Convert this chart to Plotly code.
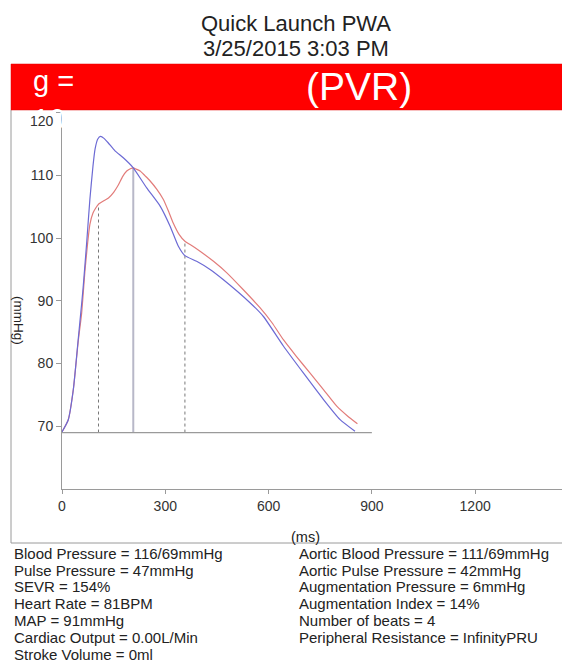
import plotly.graph_objects as go

# ---------------- data ----------------
title_lines = ["Quick Launch PWA", "3/25/2015 3:03 PM"]
banner_left = "g =<br>10"
banner_center = "(PVR)"

blue_t = [0, 18, 33, 47, 57, 62, 72, 81, 90, 96, 104, 112, 122, 134, 154, 178, 207,
          246, 285, 314, 338, 357, 391, 430, 468, 546, 585, 643, 701, 759, 807, 851]
blue_p = [69.1, 71.0, 75.9, 83.8, 89.5, 92.5, 99.5, 106.2, 111.5, 114.2, 115.8, 116.2,
          115.9, 115.2, 113.9, 112.8, 111.2, 108.0, 105.1, 101.9, 98.7, 97.2, 96.3,
          95.0, 93.4, 89.7, 87.5, 82.8, 78.5, 74.3, 71.1, 69.2]

red_t = [0, 18, 33, 47, 57, 67, 75, 81, 90, 98, 106, 120, 135, 150, 164, 176, 188, 200,
         207, 215, 227, 240, 256, 275, 294, 310, 323, 340, 357, 380, 401, 440, 478, 526,
         575, 610, 643, 680, 720, 760, 798, 830, 858]
red_p = [69.1, 71.0, 75.9, 83.5, 88.0, 95.0, 99.5, 102.2, 104.0, 104.8, 105.4, 105.9,
         106.4, 107.3, 108.5, 109.8, 110.7, 111.1, 111.2, 111.0, 110.7, 110.0, 109.1,
         107.8, 106.2, 104.2, 102.4, 100.6, 99.5, 98.7, 97.9, 96.3, 94.5, 91.8, 88.9,
         86.5, 83.8, 81.2, 78.5, 75.8, 73.2, 71.6, 70.4]

baseline_p = 69
baseline_t_end = 900
marker_t = [106, 207, 357]
marker_p = [105.4, 111.2, 99.5]
marker_style = ["dashed", "solid", "dashed"]

x_ticks = [0, 300, 600, 900, 1200]
y_ticks = [70, 80, 90, 100, 110, 120]
x_title = "(ms)"
y_title = "(mmHg)"

left_stats = ["Blood Pressure = 116/69mmHg", "Pulse Pressure = 47mmHg", "SEVR = 154%",
              "Heart Rate = 81BPM", "MAP = 91mmHg", "Cardiac Output = 0.00L/Min",
              "Stroke Volume = 0ml"]
right_stats = ["Aortic Blood Pressure = 111/69mmHg", "Aortic Pulse Pressure = 42mmHg",
               "Augmentation Pressure = 6mmHg", "Augmentation Index = 14%",
               "Number of beats = 4", "Peripheral Resistance = InfinityPRU"]

# ---------------- layout helpers ----------------
# page body adds an 8px offset; positions below are given in screen pixels
OFF = 8
W, H = 570, 662
L, R, T, B = 62 - OFF, 570 - OFF, 112 - OFF, 489 - OFF
PW, PH = R - L, B - T


def px(x):
    return (x - OFF - L) / PW


def py(y):
    return (B - (y - OFF)) / PH


FONT = "Liberation Sans, Arial, sans-serif"
TXT = "#222222"

fig = go.Figure()

fig.add_trace(go.Scatter(x=red_t, y=red_p, mode="lines",
                         line=dict(color="#e27c7a", width=1.2, shape="spline", smoothing=0.5),
                         hoverinfo="skip", showlegend=False))
fig.add_trace(go.Scatter(x=blue_t, y=blue_p, mode="lines",
                         line=dict(color="#6c6ad4", width=1.2, shape="spline", smoothing=0.5),
                         hoverinfo="skip", showlegend=False))

shapes = []
shapes.append(dict(type="line", xref="x", yref="y", x0=0, x1=baseline_t_end,
                   y0=baseline_p, y1=baseline_p, line=dict(color="#9a9a9a", width=1.2)))
for t, p, s in zip(marker_t, marker_p, marker_style):
    if s == "solid":
        ln = dict(color="#b8b8c8", width=2)
    else:
        ln = dict(color="#555555", width=0.8, dash="dot")
    shapes.append(dict(type="line", xref="x", yref="y", x0=t, x1=t,
                       y0=baseline_p, y1=p, line=ln, layer="below"))

# frame
shapes.append(dict(type="line", xref="paper", yref="paper", x0=px(11), x1=px(11),
                   y0=py(110), y1=py(543), line=dict(color="#9a9a9a", width=1)))
shapes.append(dict(type="line", xref="paper", yref="paper", x0=px(11), x1=px(580),
                   y0=py(543), y1=py(543), line=dict(color="#9a9a9a", width=1)))
# red banner
shapes.append(dict(type="rect", xref="paper", yref="paper", x0=px(11), x1=px(580),
                   y0=py(110), y1=py(64), fillcolor="#ff0000",
                   line=dict(color="#e00000", width=0.5), layer="above"))

annotations = []
for yc, s in zip([23.6, 49.0], title_lines):
    annotations.append(dict(xref="paper", yref="paper", x=px(296), y=py(yc),
                            text=s, showarrow=False,
                            font=dict(family=FONT, size=22, color=TXT),
                            xanchor="center", yanchor="middle"))
annotations.append(dict(xref="paper", yref="paper", x=px(31), y=py(63),
                        text=banner_left, showarrow=False, align="left",
                        font=dict(family=FONT, size=29, color="white"),
                        xanchor="left", yanchor="top"))
annotations.append(dict(xref="paper", yref="paper", x=px(359), y=py(86),
                        text=banner_center, showarrow=False,
                        font=dict(family=FONT, size=39, color="white"),
                        xanchor="center", yanchor="middle"))
annotations.append(dict(xref="paper", yref="paper", x=px(19), y=py(320),
                        text=y_title, showarrow=False, textangle=90,
                        font=dict(family=FONT, size=13.5, color=TXT),
                        xanchor="center", yanchor="middle"))
annotations.append(dict(xref="paper", yref="paper", x=px(305), y=py(537),
                        text=x_title, showarrow=False,
                        font=dict(family=FONT, size=14.5, color=TXT),
                        xanchor="center", yanchor="middle"))
annotations.append(dict(xref="paper", yref="y", x=px(56), y=y_ticks[-1],
                        text=str(y_ticks[-1]), showarrow=False, yshift=-8,
                        font=dict(family=FONT, size=14, color="#333333"),
                        xanchor="right", yanchor="middle"))

for i, s in enumerate(left_stats):
    annotations.append(dict(xref="paper", yref="paper", x=px(12), y=py(553.3 + i * 16.8),
                            text=s, showarrow=False,
                            font=dict(family=FONT, size=15, color=TXT),
                            xanchor="left", yanchor="middle"))
for i, s in enumerate(right_stats):
    annotations.append(dict(xref="paper", yref="paper", x=px(297), y=py(553.3 + i * 16.8),
                            text=s, showarrow=False,
                            font=dict(family=FONT, size=15, color=TXT),
                            xanchor="left", yanchor="middle"))

fig.update_layout(
    width=W, height=H,
    margin=dict(l=L, r=W - R, t=T, b=H - B, pad=0),
    paper_bgcolor="white", plot_bgcolor="white",
    showlegend=False,
    shapes=shapes, annotations=annotations,
    xaxis=dict(range=[0, PW / 0.3443], tickvals=x_ticks, ticktext=[str(v) for v in x_ticks],
               showgrid=False, zeroline=False, showline=True, linecolor="#9a9a9a",
               linewidth=1, ticks="outside", ticklen=4, tickcolor="#9a9a9a",
               tickfont=dict(family=FONT, size=14, color="#333333")),
    yaxis=dict(range=[60, 120.1], tickvals=y_ticks,
               ticktext=[str(v) for v in y_ticks[:-1]] + [""],
               showgrid=False, zeroline=False, showline=True, linecolor="#9a9a9a",
               linewidth=1, ticks="outside", ticklen=5, tickcolor="#9a9a9a",
               tickfont=dict(family=FONT, size=14, color="#333333")),
)

fig.write_html("out.html")
